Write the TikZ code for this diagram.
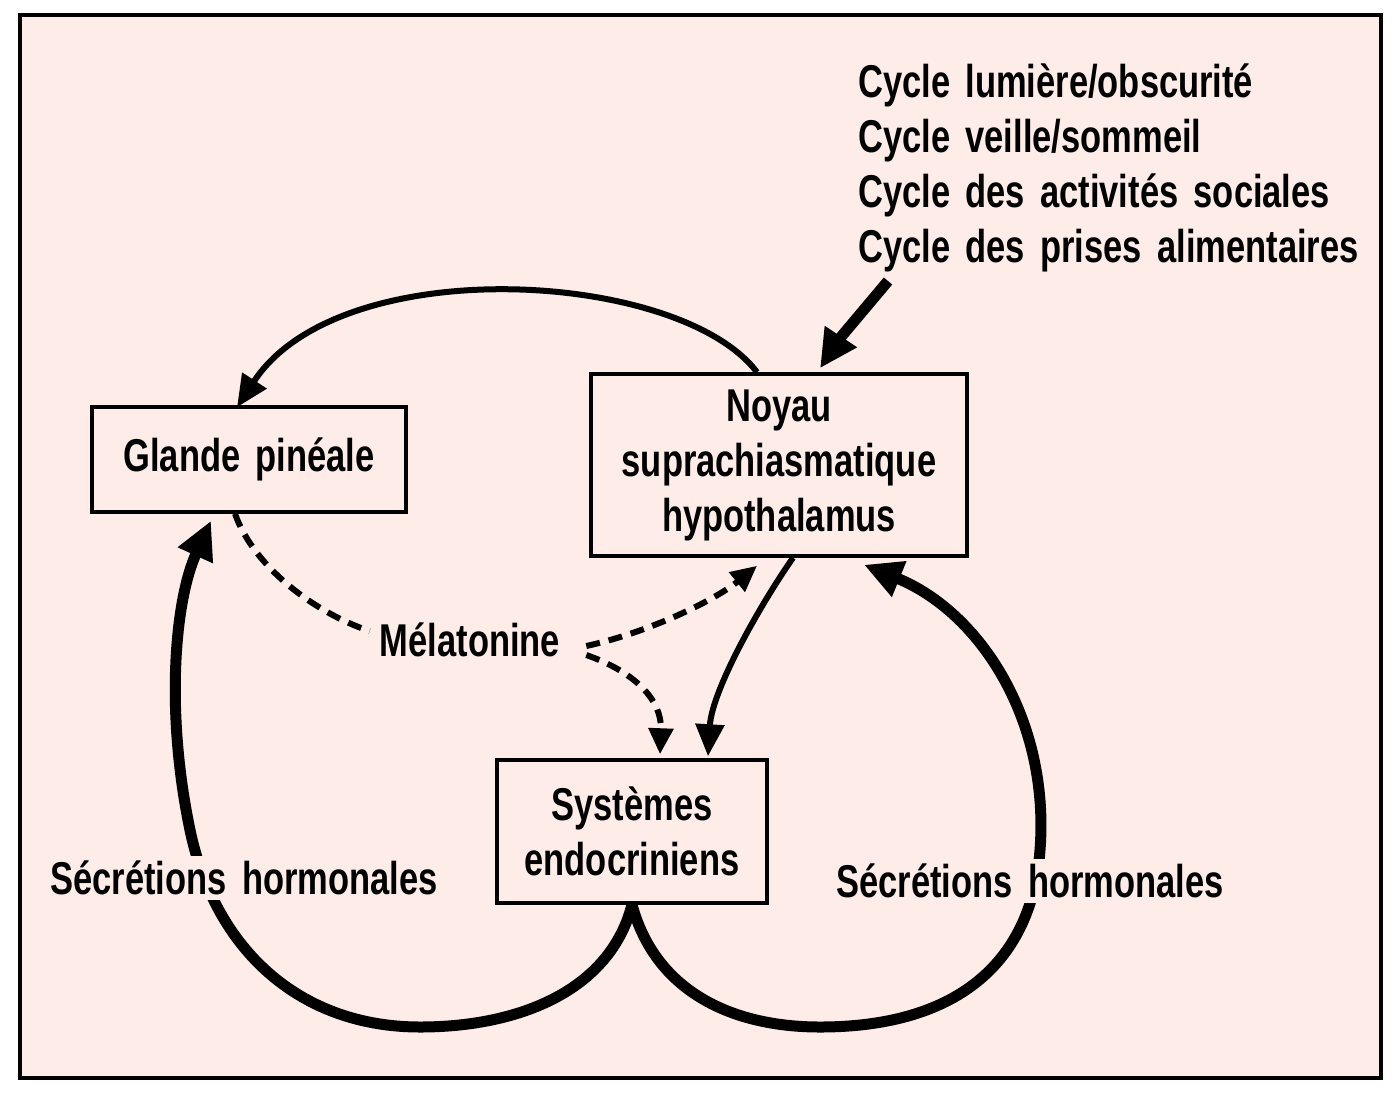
\documentclass[tikz,border=0pt]{standalone}
\usepackage{fontspec}
\usetikzlibrary{arrows.meta}
\newfontfamily\labfont{Liberation Sans}[FakeStretch=0.75, WordSpace={1.6,1,1}]
\definecolor{bg}{RGB}{253,236,232}
\begin{document}
\begin{tikzpicture}[x=1pt,y=-1pt,
  every node/.style={font=\labfont\bfseries\fontsize{46}{55}\selectfont, inner sep=0pt},
  box/.style={draw=black, line width=3.5pt, fill=bg, align=center},
  lab/.style={fill=bg, inner sep=5pt},
  medarrow/.style={line width=6pt, -{Triangle[length=32pt,width=28pt]}},
  heavyarrow/.style={line width=11pt, -{Triangle[length=38pt,width=36pt]}},
  dasharrow/.style={line width=6pt, dash pattern=on 14pt off 9pt, -{Triangle[length=26pt,width=24pt]}},
  dashline/.style={line width=6pt, dash pattern=on 14pt off 9pt}
]
\useasboundingbox (0,0) rectangle (1397,1096);
\fill[white] (0,0) rectangle (1397,1096);
\draw[line width=3.5pt, fill=bg] (20,15) rectangle (1381,1078);

% nodes
\node[box, minimum width=314pt, minimum height=105pt] (glande) at (249,459.5) {Glande pinéale};
\node[box, minimum width=376pt, minimum height=182pt] (noyau) at (779,465) {Noyau\\suprachiasmatique\\hypothalamus};
\node[box, minimum width=270pt, minimum height=143pt] (systemes) at (632,831.5) {Systèmes\\endocriniens};
\node[anchor=west, align=left] (cycles) at (858,168) {Cycle lumière/obscurité\\Cycle veille/sommeil\\Cycle des activités sociales\\Cycle des prises alimentaires};
\node (melat) at (470,640) {Mélatonine};
\coordinate (cin) at (888,281);

% connectors
\draw[medarrow] ([xshift=-22pt]noyau.north) .. controls (680,270) and (340,250) .. ([xshift=-12pt,yshift=-2pt]glande.north);
\draw[heavyarrow] (cin) .. controls (862,312) and (840,338) .. ([xshift=41pt,yshift=4pt]noyau.north);
\draw[medarrow] ([xshift=14pt]noyau.south) .. controls (760,605) and (712,690) .. ([xshift=76pt,yshift=2pt]systemes.north);

\draw[dashline] ([xshift=-14pt]glande.south) .. controls (255,570) and (320,615) .. ([xshift=-10pt,yshift=9pt]melat.west);
\draw[dasharrow] ([xshift=26pt,yshift=-6pt]melat.east) .. controls (650,632) and (715,600) .. ([xshift=-22pt,yshift=-8pt]noyau.south);
\draw[dasharrow] ([xshift=26pt,yshift=-15pt]melat.east) .. controls (635,672) and (662,700) .. ([xshift=28pt,yshift=4pt]systemes.north);

\draw[heavyarrow] (systemes.south) .. controls (610,990) and (520,1027) .. (420,1027)
   .. controls (300,1027) and (215,950) .. (190,830)
   .. controls (165,710) and (175,600) .. ([xshift=-38pt,yshift=-7pt]glande.south);
\draw[heavyarrow] (systemes.south) .. controls (655,990) and (730,1027) .. (820,1027)
   .. controls (960,1027) and (1032,960) .. (1040,850)
   .. controls (1050,720) and (980,612) .. ([xshift=85pt,yshift=-7pt]noyau.south);

\node[lab] (secl) at (244,878) {Sécrétions hormonales};
\node[lab] (secr) at (1030,881) {Sécrétions hormonales};
\end{tikzpicture}
\end{document}
